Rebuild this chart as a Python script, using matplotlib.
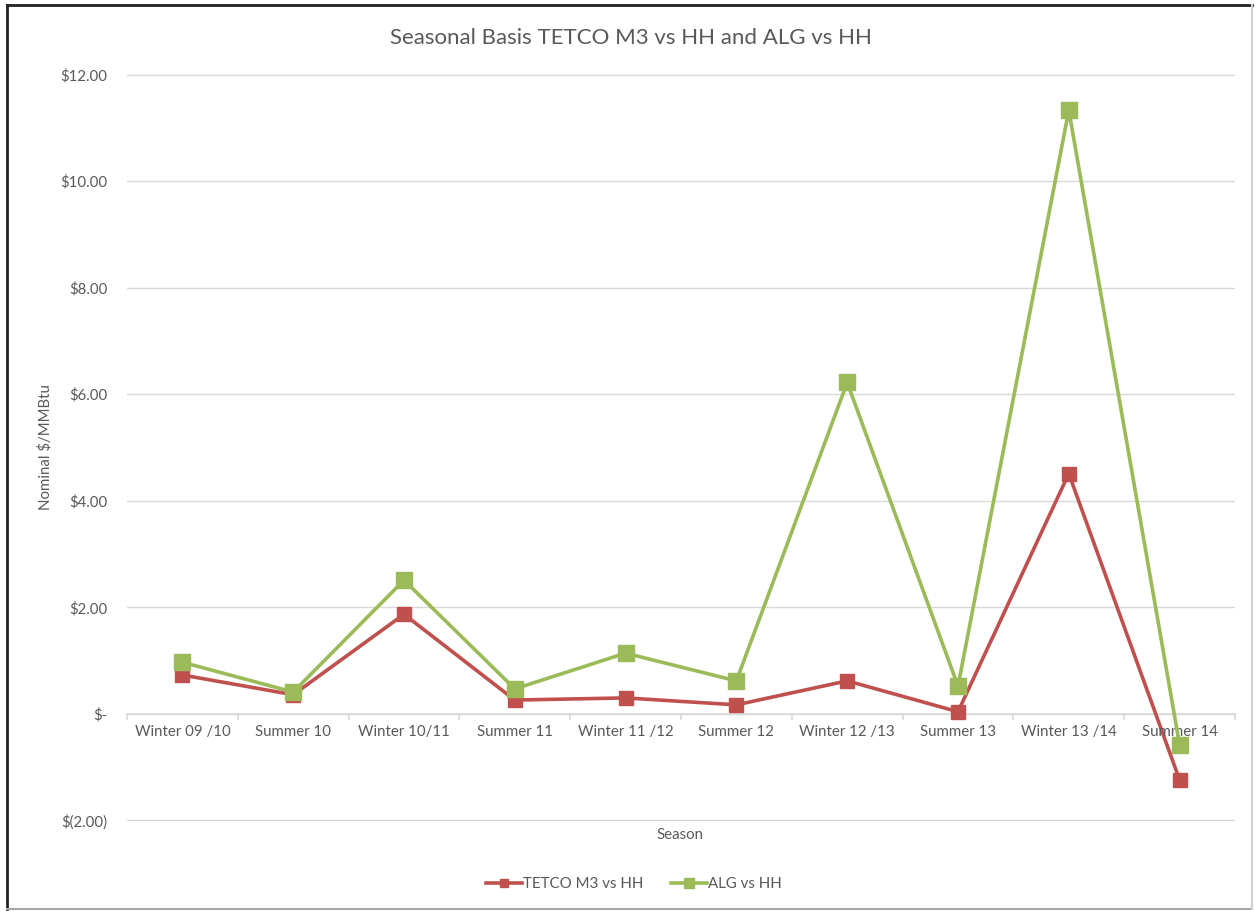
import matplotlib.pyplot as plt
from matplotlib.lines import Line2D
from matplotlib.ticker import FuncFormatter

seasons = ['Winter 09 /10', 'Summer 10', 'Winter 10/11', 'Summer 11', 'Winter 11 /12',
           'Summer 12', 'Winter 12 /13', 'Summer 13', 'Winter 13 /14', 'Summer 14']
tetco = [0.73, 0.36, 1.87, 0.26, 0.30, 0.17, 0.62, 0.04, 4.51, -1.24]
alg = [0.97, 0.41, 2.51, 0.47, 1.14, 0.62, 6.22, 0.52, 11.33, -0.58]

plt.rcParams['font.family'] = ['Lato', 'DejaVu Sans']
grey = '#595959'

fig = plt.figure(figsize=(12.55, 9.11), dpi=100)
ax = fig.add_axes([127 / 1255, 1 - 821 / 911, (1235 - 127) / 1255, (821 - 74) / 911])

x = list(range(len(seasons)))
ax.plot(x, tetco, color='#C0504D', lw=2.6, marker='s', ms=9.5, label='TETCO M3 vs HH', zorder=3)
ax.plot(x, alg, color='#9BBB59', lw=2.6, marker='s', ms=12, label='ALG vs HH', zorder=4)

ax.set_xlim(-0.5, len(seasons) - 0.5)
ax.set_ylim(-2.01, 12.01)
ax.set_yticks([-2, 0, 2, 4, 6, 8, 10, 12])


def money(v, pos):
    if abs(v) < 1e-9:
        return '$-'
    if v < 0:
        return '$(%.2f)' % abs(v)
    return '$%.2f' % v


ax.yaxis.set_major_formatter(FuncFormatter(money))
ax.grid(axis='y', color='#D9D9D9', lw=1)
ax.set_axisbelow(True)
for s in ax.spines.values():
    s.set_visible(False)
ax.tick_params(axis='y', length=0, labelsize=10.8, colors=grey, pad=14)

# category axis sits on the zero line
ax.axhline(0, color='#D9D9D9', lw=1.2, zorder=1)
ax.set_xticks([])
for i in range(len(seasons) + 1):
    ax.plot([i - 0.5, i - 0.5], [0, -0.09], color='#D9D9D9', lw=1.2, clip_on=False, zorder=1)
for i, s in enumerate(seasons):
    ax.text(i, -0.2, s, ha='center', va='top', fontsize=10.8, color=grey)

ax.set_ylabel('Nominal $/MMBtu', fontsize=10.8, color=grey, labelpad=6)
fig.text(680 / 1255, 1 - 835 / 911, 'Season', ha='center', va='center', fontsize=10.8, color=grey)
fig.text(631 / 1255, 1 - 38 / 911, 'Seasonal Basis TETCO M3 vs HH and ALG vs HH',
         ha='center', va='center', fontsize=16, color=grey)

fig.legend(loc='center', bbox_to_anchor=(634 / 1255, 1 - 884 / 911), ncol=2, frameon=False,
           fontsize=10.8, labelcolor=grey, handlelength=2.4, columnspacing=1.8,
           handletextpad=0.1, markerscale=0.6)

# chart frame: dark left/top, grey bottom/right
L, R, T, B = 7 / 1255, 1252 / 1255, 1 - 5 / 911, 1 - 909 / 911
fig.add_artist(Line2D([L, L], [B, T], color='#222222', lw=2))
fig.add_artist(Line2D([L, R], [T, T], color='#222222', lw=2))
fig.add_artist(Line2D([L, R], [B, B], color='#A6A6A6', lw=1.5))
fig.add_artist(Line2D([R, R], [B, T], color='#D0D0D0', lw=1.5))

fig.savefig('out.png', dpi=100)
